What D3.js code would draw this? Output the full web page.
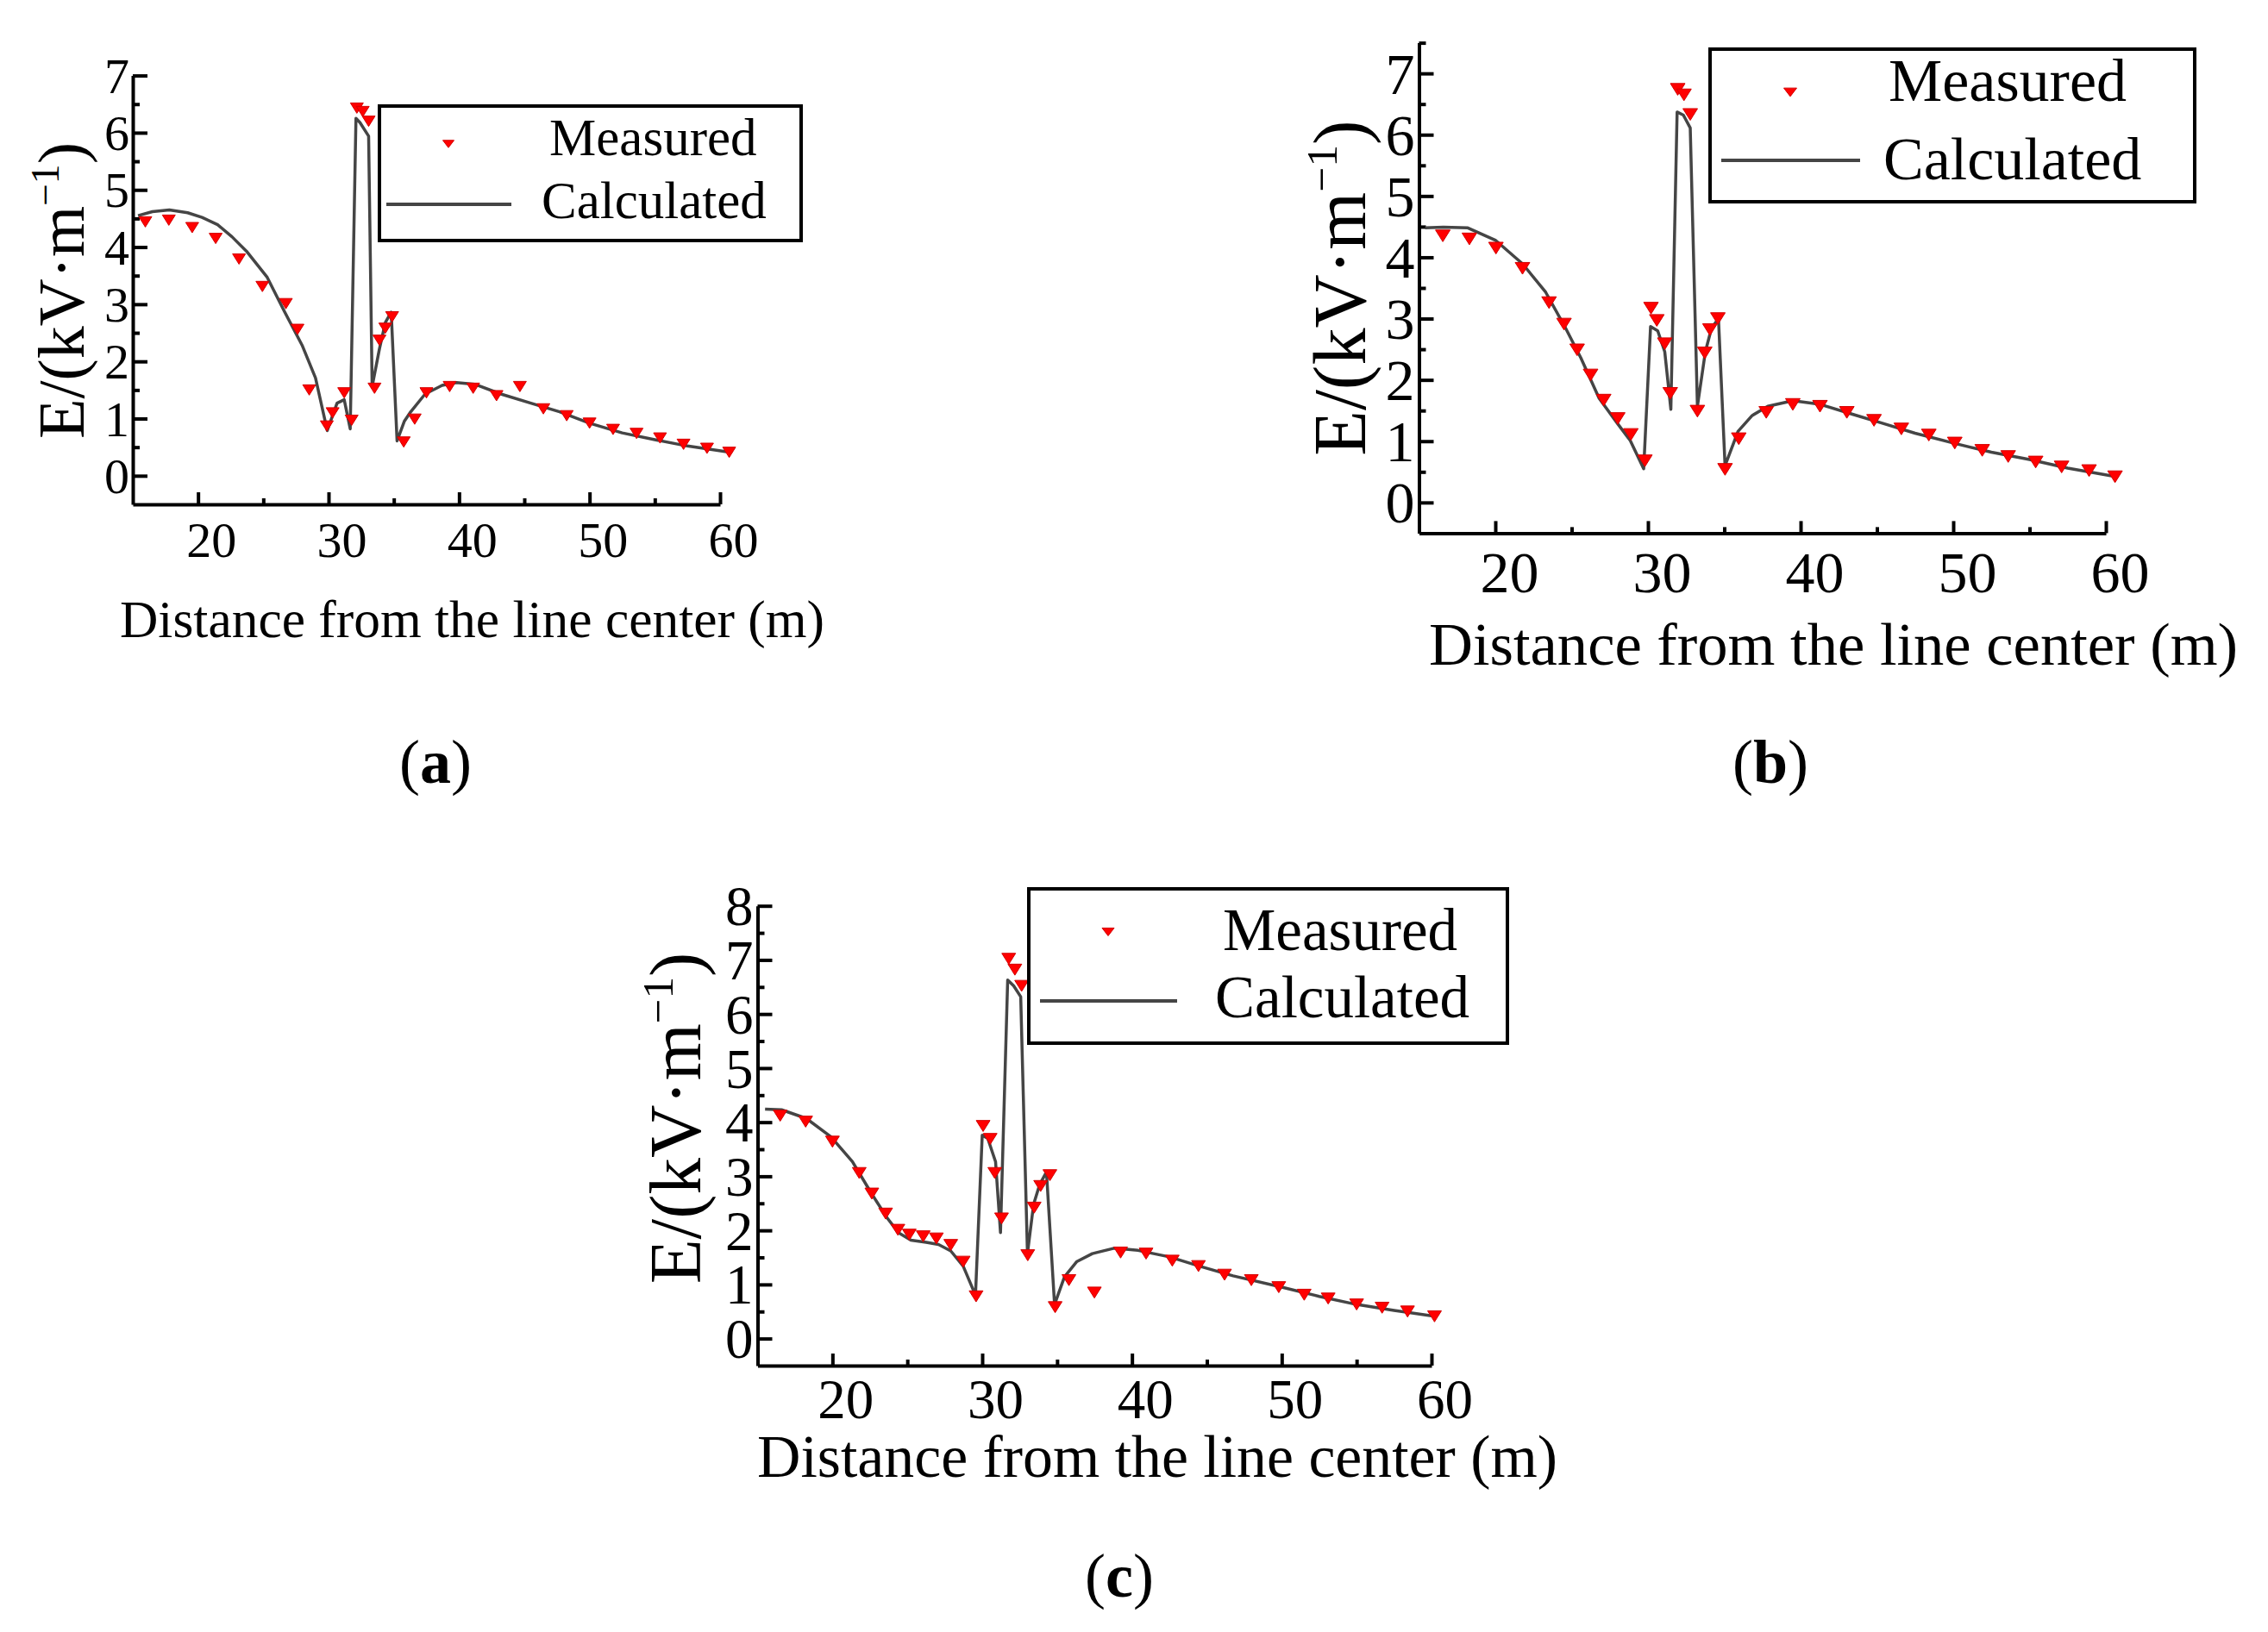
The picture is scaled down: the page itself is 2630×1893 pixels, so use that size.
<!DOCTYPE html>
<html>
<head>
<meta charset="utf-8">
<script src="https://cdn.jsdelivr.net/npm/d3@7"></script>
<style>
  body { margin: 0; background: #fff; }
  text { font-family: "Liberation Serif", "Times New Roman", serif; fill: #000; }
  .axis path, .axis line { stroke: #000; }
</style>
</head>
<body>
<svg id="chart" width="2630" height="1893"></svg>
<script>
// ---- data ----
var xDomain = [15, 60];
var xTicks = [20, 30, 40, 50, 60];
var xMinorTicks = [25, 35, 45, 55];

var yTicksA = [0, 1, 2, 3, 4, 5, 6, 7];
var yMinorA = [0.5, 1.5, 2.5, 3.5, 4.5, 5.5, 6.5];
var yTicksB = [0, 1, 2, 3, 4, 5, 6, 7];
var yMinorB = [0.5, 1.5, 2.5, 3.5, 4.5, 5.5, 6.5, 7.5];
var yTicksC = [0, 1, 2, 3, 4, 5, 6, 7, 8];
var yMinorC = [0.5, 1.5, 2.5, 3.5, 4.5, 5.5, 6.5, 7.5];

var legendLabels = ["Measured", "Calculated"];
var panelLabels = ["a", "b", "c"];

var measuredA = [[15.96,4.44],[17.76,4.47],[19.55,4.34],[21.35,4.15],[23.14,3.79],[24.93,3.31],
  [26.73,3.01],[27.62,2.56],[28.52,1.50],[29.87,0.87],[30.31,1.10],[31.2,1.45],[31.77,0.97],
  [32.17,6.43],[32.62,6.37],[33.07,6.20],[33.52,1.53],[33.9,2.37],[34.35,2.58],[34.87,2.78],
  [35.76,0.59],[36.6,0.99],[37.5,1.45],[39.28,1.56],[41.08,1.53],[42.87,1.40],[44.66,1.56],
  [46.46,1.17],[48.25,1.05],[50.0,0.92],[51.8,0.81],[53.6,0.74],[55.4,0.66],[57.2,0.55],
  [59.0,0.48],[60.7,0.41]];
var calculatedA = [[15.4,4.55],[16.5,4.62],[17.8,4.65],[19.2,4.60],[20.3,4.52],[21.5,4.39],
  [22.6,4.18],[23.7,3.93],[24.5,3.70],[25.3,3.47],[26.6,2.88],[28.0,2.27],[29.0,1.71],
  [29.9,0.79],[30.65,1.27],[31.2,1.33],[31.66,0.82],[32.1,6.25],[32.4,6.18],[33.07,5.94],
  [33.34,1.56],[33.9,2.22],[34.35,2.68],[34.8,2.86],[35.25,0.61],[35.8,0.95],[36.3,1.12],
  [37.4,1.43],[38.7,1.58],[39.8,1.63],[41.2,1.60],[43.2,1.43],[45.5,1.27],[47.7,1.12],
  [50.0,0.92],[52.5,0.75],[55.0,0.63],[57.5,0.52],[60.5,0.42]];

var measuredB = [[16.56,4.35],[18.3,4.30],[20.04,4.15],[21.78,3.82],[23.52,3.26],[24.5,2.91],
  [25.36,2.49],[26.24,2.08],[27.1,1.67],[28.02,1.37],[28.88,1.11],[29.8,0.68],[30.2,3.17],
  [30.58,2.97],[31.1,2.59],[31.46,1.78],[31.95,6.74],[32.36,6.65],[32.77,6.33],[33.24,1.49],
  [33.72,2.44],[34.06,2.82],[34.58,3.0],[35.05,0.54],[35.95,1.04],[37.75,1.47],[39.49,1.60],
  [41.27,1.57],[43.03,1.47],[44.81,1.34],[46.6,1.20],[48.4,1.10],[50.1,0.97],[51.9,0.85],
  [53.6,0.75],[55.4,0.66],[57.1,0.58],[58.9,0.52],[60.6,0.42]];
var calculatedB = [[15.4,4.48],[16.6,4.49],[18.2,4.48],[20.0,4.28],[21.8,3.89],[23.3,3.43],
  [24.55,2.87],[25.6,2.36],[26.8,1.70],[28.0,1.29],[28.84,1.01],[29.72,0.55],[30.17,2.87],
  [30.64,2.80],[31.1,2.46],[31.5,1.52],[31.91,6.37],[32.32,6.32],[32.77,6.11],[33.24,1.57],
  [33.76,2.46],[34.17,2.85],[34.62,3.0],[35.05,0.60],[35.9,1.16],[36.83,1.42],[37.85,1.57],
  [39.5,1.66],[41.3,1.60],[43.4,1.44],[45.4,1.29],[47.5,1.13],[50.0,0.97],[52.5,0.82],
  [55.0,0.70],[57.5,0.56],[60.7,0.42]];

var measuredC = [[16.51,4.12],[18.21,4.01],[20.0,3.64],[21.79,3.06],[22.63,2.68],[23.55,2.31],
  [24.37,2.01],[25.13,1.92],[26.06,1.89],[26.94,1.85],[27.9,1.73],[28.73,1.42],[29.59,0.78],
  [30.06,3.93],[30.53,3.69],[30.84,3.06],[31.29,2.22],[31.77,7.02],[32.18,6.82],[32.63,6.52],
  [33.04,1.54],[33.47,2.42],[33.9,2.82],[34.52,3.02],[34.87,0.58],[35.79,1.08],[37.49,0.85],
  [39.24,1.59],[40.94,1.57],[42.69,1.44],[44.44,1.34],[46.18,1.18],[47.97,1.08],[49.8,0.95],
  [51.5,0.81],[53.1,0.74],[55.0,0.63],[56.7,0.57],[58.4,0.50],[60.2,0.41]];
var calculatedC = [[15.5,4.24],[16.6,4.23],[18.25,4.07],[19.9,3.73],[21.33,3.27],[22.57,2.70],
  [23.6,2.25],[24.4,1.96],[25.24,1.82],[26.26,1.78],[27.08,1.74],[27.9,1.62],[28.73,1.34],
  [29.55,0.80],[30.0,3.76],[30.37,3.70],[30.89,3.27],[31.22,1.96],[31.7,6.63],[32.1,6.52],
  [32.57,6.32],[33.02,1.57],[33.43,2.48],[33.84,2.85],[34.29,3.08],[34.83,0.63],[35.49,1.14],
  [36.3,1.42],[37.35,1.57],[38.8,1.67],[40.4,1.63],[42.5,1.51],[44.5,1.34],[46.75,1.16],
  [50.0,0.95],[52.5,0.78],[55.0,0.63],[57.5,0.52],[60.3,0.41]];

// ---- layout (pixels) ----
var panels = [
  { label: panelLabels[0], measured: measuredA, calc: calculatedA,
    yDomain: [-0.5, 7], yTicks: yTicksA, yMinor: yMinorA,
    x0: 154, x1: 835, yBottom: 585, yTop: 87.6,
    tickFont: 58, xLabBase: 646, xLabDx: 15, yLabPad: 4, markW: 15,
    yTitle: { x: 97, y: 337, size: 76 },
    xTitle: { x: 139, y: 739, size: 61, len: 817 },
    legend: { box: [440, 123, 929, 279], mark: [520, 167], line: [448, 593, 237],
              tx: [637, 628], ty: [180, 253], size: 61, w: 13 },
    panelLab: { x: 505, y: 908 } },
  { label: panelLabels[1], measured: measuredB, calc: calculatedB,
    yDomain: [-0.5, 7.5], yTicks: yTicksB, yMinor: yMinorB,
    x0: 1645.5, x1: 2442, yBottom: 618.4, yTop: 49.6,
    tickFont: 68, xLabBase: 687, xLabDx: 16, yLabPad: 5, markW: 17,
    yTitle: { x: 1583, y: 334, size: 86 },
    xTitle: { x: 1657, y: 771, size: 70, len: 938 },
    legend: { box: [1983, 57, 2545, 234], mark: [2076, 107], line: [1996, 2157, 186],
              tx: [2190, 2184], ty: [117, 208], size: 70, w: 15 },
    panelLab: { x: 2053, y: 908 } },
  { label: panelLabels[2], measured: measuredC, calc: calculatedC,
    yDomain: [-0.5, 8], yTicks: yTicksC, yMinor: yMinorC,
    x0: 878.5, x1: 1660, yBottom: 1584, yTop: 1050.7,
    tickFont: 65, xLabBase: 1645, xLabDx: 15, yLabPad: 5, markW: 16,
    yTitle: { x: 812, y: 1297, size: 85 },
    xTitle: { x: 878, y: 1713, size: 70, len: 928 },
    legend: { box: [1193, 1031, 1748, 1210], mark: [1285, 1081], line: [1206, 1365, 1161],
              tx: [1418, 1409], ty: [1102, 1180], size: 69, w: 14 },
    panelLab: { x: 1298, y: 1852 } }
];

var svg = d3.select("#chart");
svg.append("rect").attr("width", 2630).attr("height", 1893).attr("fill", "#fff");

// downward triangle centred on the point
var triPath = function(w, r){
  var h = w * r;
  return "M" + (-w/2) + "," + (-h/2) + "L" + (w/2) + "," + (-h/2) + "L0," + (h/2) + "Z";
};

var drawPanel = function(p){
  var g = svg.append("g").attr("class", "panel");
  var x = d3.scaleLinear().domain(xDomain).range([p.x0, p.x1]);
  var y = d3.scaleLinear().domain(p.yDomain).range([p.yBottom, p.yTop]);

  // axes: ticks point inwards
  var xAxis = g.append("g").attr("class", "axis")
    .attr("transform", "translate(0," + p.yBottom + ")")
    .call(d3.axisBottom(x).tickValues(xTicks).tickSizeInner(-14).tickSizeOuter(0).tickPadding(0));
  xAxis.selectAll("text")
    .attr("y", p.xLabBase - p.yBottom).attr("dy", 0).attr("dx", p.xLabDx)
    .style("font-size", p.tickFont + "px");
  g.append("g").attr("class", "axis")
    .attr("transform", "translate(0," + p.yBottom + ")")
    .call(d3.axisBottom(x).tickValues(xMinorTicks).tickSize(-7).tickFormat(""))
    .select(".domain").remove();

  var yAxis = g.append("g").attr("class", "axis")
    .attr("transform", "translate(" + p.x0 + ",0)")
    .call(d3.axisLeft(y).tickValues(p.yTicks).tickSizeInner(-17).tickSizeOuter(0).tickPadding(p.yLabPad));
  yAxis.selectAll("text").attr("dy", "0.34em").style("font-size", p.tickFont + "px");
  g.append("g").attr("class", "axis")
    .attr("transform", "translate(" + p.x0 + ",0)")
    .call(d3.axisLeft(y).tickValues(p.yMinor).tickSize(-8).tickFormat(""))
    .select(".domain").remove();

  g.selectAll(".axis path, .axis line").attr("stroke-width", 4);
  g.selectAll(".axis text").attr("font-family", null).attr("fill", "#000");

  // calculated curve
  var line = d3.line().x(function(d){ return x(d[0]); }).y(function(d){ return y(d[1]); });
  g.append("path").datum(p.calc)
    .attr("d", line)
    .attr("fill", "none")
    .attr("stroke", "#454545")
    .attr("stroke-width", 3.5)
    .attr("stroke-linejoin", "round");

  // measured points
  g.selectAll(".pt").data(p.measured).enter()
    .append("path").attr("class", "pt")
    .attr("d", triPath(p.markW, 0.8))
    .attr("transform", function(d){ return "translate(" + x(d[0]) + "," + y(d[1]) + ")"; })
    .attr("fill", "#ff0000")
    .attr("stroke", "#d40000")
    .attr("stroke-width", 1);

  // axis titles
  var yt = g.append("text")
    .attr("transform", "translate(" + p.yTitle.x + "," + p.yTitle.y + ") rotate(-90)")
    .attr("text-anchor", "middle")
    .style("font-size", p.yTitle.size + "px");
  yt.append("tspan").text("E/(kV·m");
  yt.append("tspan").attr("dy", -p.yTitle.size * 0.38).style("font-size", (p.yTitle.size * 0.6) + "px").text("−1");
  yt.append("tspan").attr("dy", p.yTitle.size * 0.38).text(")");

  g.append("text")
    .attr("x", p.xTitle.x).attr("y", p.xTitle.y)
    .attr("textLength", p.xTitle.len).attr("lengthAdjust", "spacingAndGlyphs")
    .style("font-size", p.xTitle.size + "px")
    .text("Distance from the line center (m)");

  // legend
  var L = p.legend;
  g.append("rect")
    .attr("x", L.box[0]).attr("y", L.box[1])
    .attr("width", L.box[2] - L.box[0]).attr("height", L.box[3] - L.box[1])
    .attr("fill", "#fff").attr("stroke", "#000").attr("stroke-width", 4);
  g.append("path").attr("d", triPath(L.w, 0.65))
    .attr("transform", "translate(" + L.mark[0] + "," + L.mark[1] + ")")
    .attr("fill", "#ff0000").attr("stroke", "#d40000").attr("stroke-width", 1);
  g.append("line")
    .attr("x1", L.line[0]).attr("x2", L.line[1]).attr("y1", L.line[2]).attr("y2", L.line[2])
    .attr("stroke", "#454545").attr("stroke-width", 4);
  g.selectAll(".leg-text").data(legendLabels).enter()
    .append("text").attr("class", "leg-text")
    .attr("x", function(d, i){ return L.tx[i]; })
    .attr("y", function(d, i){ return L.ty[i]; })
    .style("font-size", L.size + "px")
    .text(function(d){ return d; });

  // panel label (bold letter)
  var pl = g.append("text")
    .attr("x", p.panelLab.x).attr("y", p.panelLab.y)
    .attr("text-anchor", "middle")
    .style("font-size", "72px");
  pl.append("tspan").text("(");
  pl.append("tspan").attr("font-weight", "bold").text(p.label);
  pl.append("tspan").text(")");
};

panels.forEach(drawPanel);
</script>
</body>
</html>
